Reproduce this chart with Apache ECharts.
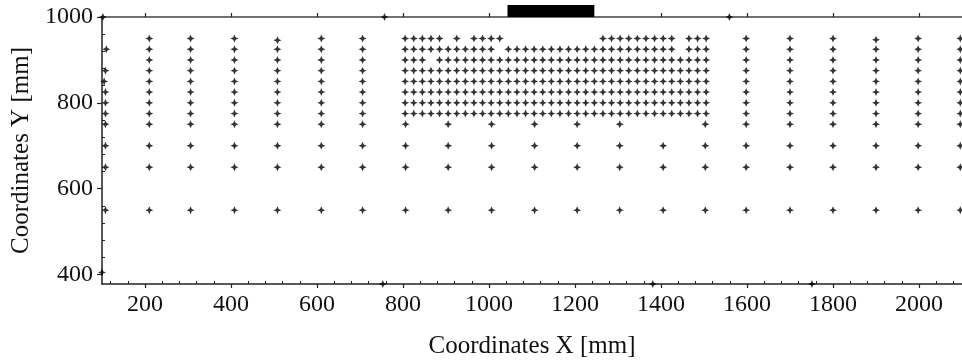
<!DOCTYPE html>
<html>
<head>
<meta charset="utf-8">
<script src="https://cdn.jsdelivr.net/npm/echarts@6/dist/echarts.min.js"></script>
<style>html,body{margin:0;padding:0;background:#fff}#c{width:962px;height:361px}</style>
</head>
<body>
<div id="c"></div>
<script>
// ---- axis ranges & ticks ----
const xMin = 100, xMax = 2100, yMin = 378, yMax = 1000;
const xMajorTicks = [200, 400, 600, 800, 1000, 1200, 1400, 1600, 1800, 2000];
const xMinorTicks = [120, 160, 240, 280, 320, 360, 440, 480, 520, 560, 640, 680, 720, 760, 840, 880, 920, 960,
  1040, 1080, 1120, 1160, 1240, 1280, 1320, 1360, 1440, 1480, 1520, 1560, 1640, 1680, 1720, 1760, 1840, 1880,
  1920, 1960, 2040, 2080];
const yMajorTicks = [400, 600, 800, 1000];
const yMinorTicks = [440, 480, 520, 560, 640, 680, 720, 760, 840, 880, 920, 960];

// ---- measurement points ----
const rowY = [950, 925, 900, 875, 850, 825, 800, 775, 750, 700, 650, 550];
const leftColX = [210, 306, 408, 508, 610, 706];
const leftColTopY = [950, 950, 950, 946, 950, 950];
const rightColX = [1598, 1700, 1800, 1900, 1998, 2096];
const rightColTopY = [950, 950, 950, 947, 950, 950];
const edgeColX = [110, 108, 105, 108, 108, 108, 108, 108, 108, 108];
const edgeColY = [925, 875, 850, 825, 800, 775, 750, 700, 650, 550];
const midRow750X = [806, 905, 1006, 1106, 1205, 1304, 1503];
const midLowX = [806, 905, 1006, 1106, 1205, 1304, 1405, 1503];
const midLowY = [700, 650, 550];
const denseX = [805, 825, 845, 865, 885, 905, 925, 945, 965, 985, 1005, 1025, 1045, 1065, 1085, 1105, 1125, 1145,
  1165, 1185, 1205, 1225, 1245, 1265, 1285, 1305, 1325, 1345, 1365, 1385, 1405, 1425, 1445, 1465, 1485, 1505];
const denseY = [950, 925, 900, 875, 850, 825, 800, 775];
const denseMask = [
  "111110101111000000000001111111110111",
  "111111111110111111111111111111110111",
  "111011111111111111111111111111111111",
  "111111111111111111111111111111111111",
  "111111111111111111111111111111111111",
  "111111111111111111111111111111111111",
  "111111111111111111111111111111111111",
  "111111111111111111111111111111111111"
];
const boundaryX = [102, 757, 1559, 753, 1381, 1751, 100];
const boundaryY = [1000, 1000, 1000, 378, 378, 378, 405];
// source block above the top edge
const sourceX = [1043, 1245];
const sourceY = [1000, 1028];

// ---- build point table ----
const pts = [];
leftColX.forEach((x, c) => rowY.forEach((y, r) => pts.push([x, r === 0 ? leftColTopY[c] : y])));
rightColX.forEach((x, c) => rowY.forEach((y, r) => pts.push([x, r === 0 ? rightColTopY[c] : y])));
edgeColX.forEach((x, i) => pts.push([x, edgeColY[i]]));
midRow750X.forEach(x => pts.push([x, 750]));
midLowY.forEach(y => midLowX.forEach(x => pts.push([x, y])));
denseY.forEach((y, r) => denseX.forEach((x, i) => { if (denseMask[r][i] === '1') pts.push([x, y]); }));
boundaryX.forEach((x, i) => pts.push([x, boundaryY[i]]));

const font = "'Liberation Serif','Times New Roman',serif";
const lineCol = '#222';
const plain = v => String(v);
const chart = echarts.init(document.getElementById('c'), null, {renderer: 'canvas'});
chart.setOption({
  animation: false,
  backgroundColor: '#fff',
  grid: {left: 102, right: 0, top: 17, bottom: 77, containLabel: false, outerBoundsMode: 'none'},
  xAxis: [
    {type: 'value', position: 'bottom', min: xMin, max: xMax,
     name: 'Coordinates X [mm]', nameLocation: 'middle', nameGap: 50,
     nameTextStyle: {fontFamily: font, fontSize: 25, color: '#111'},
     axisLine: {show: true, lineStyle: {color: lineCol, width: 1.5}},
     axisTick: {show: true, inside: false, length: 4, customValues: xMajorTicks, lineStyle: {color: lineCol, width: 1.2}},
     axisLabel: {show: true, customValues: xMajorTicks, formatter: plain, margin: 9, fontFamily: font, fontSize: 24, color: '#111'},
     splitLine: {show: false}},
    {type: 'value', position: 'bottom', min: xMin, max: xMax,
     axisLine: {show: false},
     axisTick: {show: true, inside: true, length: 3, customValues: xMinorTicks, lineStyle: {color: lineCol, width: 1}},
     axisLabel: {show: false}, splitLine: {show: false}},
    {type: 'value', position: 'top', min: xMin, max: xMax,
     axisLine: {show: true, lineStyle: {color: '#444', width: 1.5}},
     axisTick: {show: true, inside: false, length: 4, customValues: xMajorTicks, lineStyle: {color: lineCol, width: 1.2}},
     axisLabel: {show: false}, splitLine: {show: false}}
  ],
  yAxis: [
    {type: 'value', position: 'left', min: yMin, max: yMax,
     name: 'Coordinates Y [mm]', nameLocation: 'middle', nameGap: 67,
     nameTextStyle: {fontFamily: font, fontSize: 25, color: '#111'},
     axisLine: {show: true, lineStyle: {color: lineCol, width: 1.5}},
     axisTick: {show: true, inside: false, length: 5, customValues: yMajorTicks, lineStyle: {color: lineCol, width: 1.2}},
     axisLabel: {show: true, customValues: yMajorTicks, formatter: plain, margin: 9, fontFamily: font, fontSize: 24, color: '#111'},
     splitLine: {show: false}},
    {type: 'value', position: 'left', min: yMin, max: yMax,
     axisLine: {show: false},
     axisTick: {show: true, inside: true, length: 3, customValues: yMinorTicks, lineStyle: {color: lineCol, width: 1}},
     axisLabel: {show: false}, splitLine: {show: false}}
  ],
  series: [
    {type: 'scatter', xAxisIndex: 0, yAxisIndex: 0, clip: false, data: pts,
     symbol: 'path://M0,-5 L1.5,-1.5 L5,0 L1.5,1.5 L0,5 L-1.5,1.5 L-5,0 L-1.5,-1.5 Z',
     symbolSize: 8, itemStyle: {color: '#000'}, silent: true},
    {type: 'custom', xAxisIndex: 0, yAxisIndex: 0, clip: false, silent: true,
     data: [[sourceX[0], sourceY[0], sourceX[1], sourceY[1]]],
     encode: {x: [0, 2], y: [1, 3]},
     renderItem: function (params, api) {
       const p0 = api.coord([api.value(0), api.value(1)]);
       const p1 = api.coord([api.value(2), api.value(3)]);
       return {type: 'rect', shape: {x: p0[0], y: p1[1], width: p1[0] - p0[0], height: p0[1] - p1[1]},
               style: {fill: '#000'}};
     }}
  ]
});
</script>
</body>
</html>
